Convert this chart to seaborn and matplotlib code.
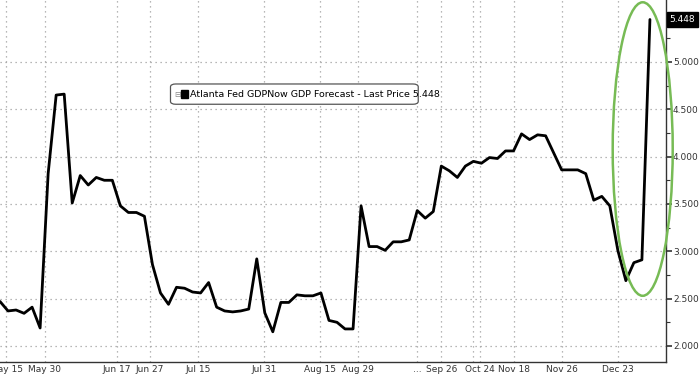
import numpy as np
import pandas as pd
import matplotlib
matplotlib.use("Agg")
import matplotlib.pyplot as plt
import seaborn as sns
from matplotlib.patches import Ellipse, FancyBboxPatch, Rectangle
from matplotlib.ticker import FixedLocator, MultipleLocator

# ---- data (GDPNow estimates, one per update) ----
gdpnow = [2.47, 2.37, 2.38, 2.345, 2.41, 2.19, 3.82, 4.65, 4.66, 3.51,
          3.80, 3.70, 3.78, 3.75, 3.75, 3.48, 3.41, 3.41, 3.37, 2.86,
          2.56, 2.44, 2.62, 2.61, 2.57, 2.56, 2.67, 2.41, 2.37, 2.36,
          2.37, 2.39, 2.92, 2.35, 2.15, 2.46, 2.46, 2.54, 2.53, 2.53,
          2.56, 2.27, 2.25, 2.18, 2.18, 3.48, 3.05, 3.05, 3.01, 3.10,
          3.10, 3.12, 3.43, 3.35, 3.42, 3.90, 3.85, 3.78, 3.90, 3.95,
          3.93, 3.99, 3.98, 4.06, 4.06, 4.24, 4.18, 4.23, 4.22, 4.04,
          3.86, 3.86, 3.86, 3.82, 3.54, 3.58, 3.48, 3.01, 2.69, 2.88,
          2.91, 5.448]
tick_labels = ["May 15", "May 30", "Jun 17", "Jun 27", "Jul 15", "Jul 31",
               "Aug 15", "Aug 29", "...", "Sep 26", "Oct 24", "Nov 18",
               "Nov 26", "Dec 23"]
tick_pos = [0.8, 5.6, 14.6, 18.7, 24.7, 32.9, 39.9, 44.6, 52.0, 55.0,
            59.8, 64.0, 70.0, 77.0]
extra_grid = [59.0]
minor_x = [11.6, 22.8, 36.5, 49.9, 66.1, 73.2, 81.3]
y_ticks = [2.0, 2.5, 3.0, 3.5, 4.0, 4.5, 5.0]
last_price = gdpnow[-1]
legend_text = "Atlanta Fed GDPNow GDP Forecast - Last Price 5.448"

df = pd.DataFrame({"idx": np.arange(len(gdpnow)), "val": gdpnow})

sns.set_style("white")
plt.rcParams["font.family"] = ["DejaVu Sans"]

fig = plt.figure(figsize=(7, 3.75), dpi=100)
ax = fig.add_axes([0.0, 0.0347, 0.9514, 0.9653])

# grid
for y in y_ticks:
    ax.axhline(y, color="#a0a0a0", lw=0.9, ls=(0, (1, 3)), zorder=0)
for x in tick_pos + extra_grid:
    ax.axvline(x, color="#a0a0a0", lw=0.9, ls=(0, (1, 3)), zorder=0)

sns.lineplot(data=df, x="idx", y="val", color="black", lw=2.0, ax=ax,
             legend=False, zorder=3)

ax.set_xlim(0, 83)
ax.set_ylim(1.831, 5.654)
ax.set_xlabel("")
ax.set_ylabel("")

# spines
for s in ["top", "left"]:
    ax.spines[s].set_visible(False)
ax.spines["right"].set_color("#333333")
ax.spines["bottom"].set_color("#333333")
ax.spines["right"].set_linewidth(1.0)
ax.spines["bottom"].set_linewidth(1.0)

# x ticks
ax.xaxis.set_major_locator(FixedLocator(tick_pos))
ax.set_xticklabels(tick_labels)
ax.xaxis.set_minor_locator(FixedLocator(minor_x))
ax.tick_params(axis="x", which="major", direction="out", length=2, width=0.8,
               labelsize=6.5, colors="#333333", pad=0.5)
ax.tick_params(axis="x", which="minor", direction="out", length=2, width=0.8,
               colors="#333333")

# y ticks on right
ax.yaxis.tick_right()
ax.yaxis.set_major_locator(FixedLocator(y_ticks))
ax.set_yticklabels([f"{v:.3f}" for v in y_ticks])
ax.yaxis.set_minor_locator(MultipleLocator(0.25))
ax.tick_params(axis="y", which="major", direction="out", length=4, width=1.2,
               labelsize=6.5, colors="#333333", pad=1)
ax.tick_params(axis="y", which="minor", direction="out", length=3, width=0.8,
               colors="#333333")

# last price box
ax.annotate(f"{last_price:.3f}", xy=(1.0, last_price),
            xycoords=ax.get_yaxis_transform(), xytext=(2.5, 0),
            textcoords="offset points", va="center", ha="left",
            fontsize=6.5, color="white",
            bbox=dict(boxstyle="square,pad=0.3", fc="black", ec="black"),
            annotation_clip=False)

# legend box
box = FancyBboxPatch((0.256, 0.712), 0.372, 0.056, transform=ax.transAxes,
                     boxstyle="round,pad=0,rounding_size=0.008",
                     fc="white", ec="#555555", lw=0.9, zorder=5)
ax.add_patch(box)
ax.text(0.261, 0.740, "\u229f", transform=ax.transAxes, fontsize=5.5,
        color="#888888", va="center", ha="left", zorder=6)
ax.add_patch(Rectangle((0.2725, 0.729), 0.0105, 0.022, transform=ax.transAxes,
                       fc="black", ec="black", zorder=6))
ax.text(0.2855, 0.740, legend_text, transform=ax.transAxes,
        fontsize=6.8, color="black", va="center", ha="left", zorder=6)

# green ellipse highlight
ell = Ellipse((80.1, 4.08), 7.48, 3.10, fill=False, ec="#77bb55",
              lw=1.8, zorder=4, clip_on=False)
ax.add_patch(ell)

fig.savefig("out.png", dpi=100)
